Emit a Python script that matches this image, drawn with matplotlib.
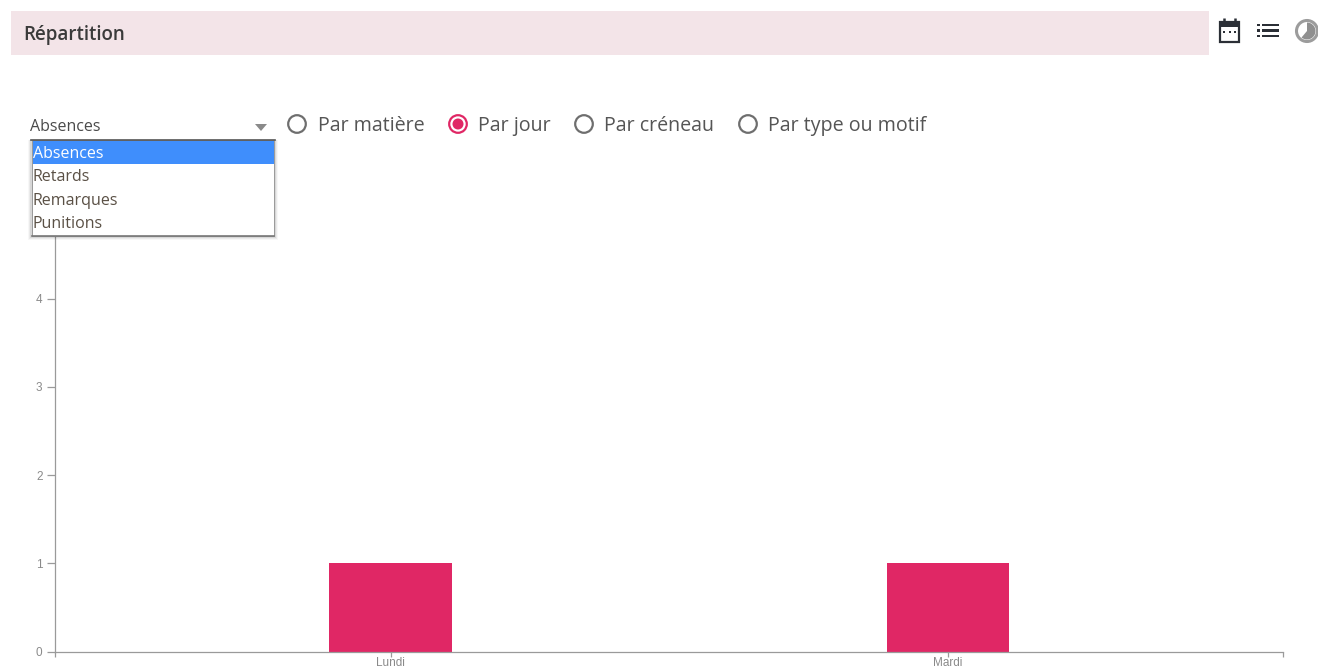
import matplotlib
matplotlib.use("Agg")
import matplotlib.pyplot as plt
from matplotlib.patches import Rectangle, Circle, Wedge, Polygon

plt.rcParams['font.family'] = ['Open Sans', 'DejaVu Sans']

W, H = 1318, 670

# chart data
jours = ["Lundi", "Mardi"]
valeurs = [1, 1]
y_ticks = [0, 1, 2, 3, 4]

# widgets text
titre = "Répartition"
options_select = ["Absences", "Retards", "Remarques", "Punitions"]
radios = ["Par matière", "Par jour", "Par créneau", "Par type ou motif"]
radio_x = [297, 458, 584, 748]
radio_actif = 1

ROSE = "#e02765"
GRIS = "#9a9a9a"
TEXTE = "#4a4a4a"

fig = plt.figure(figsize=(W / 100, H / 100), dpi=100, facecolor="white")


def px_axes(x0, y0, x1, y1):
    return [x0 / W, 1 - y1 / H, (x1 - x0) / W, (y1 - y0) / H]


# bar chart
ax = fig.add_axes(px_axes(55, 210.5, 1283, 651.5))
ax.bar(range(len(jours)), valeurs, width=0.22, color=ROSE, zorder=2)
ax.set_xlim(-0.602, 1.601)
ax.set_ylim(0, 5)
ax.set_xticks([-0.602, 0, 1, 1.601])
ax.set_xticklabels(["", jours[0], jours[1], ""], fontsize=8.5, color="#8a8a8a",
                   family="Liberation Sans")
ax.set_yticks(y_ticks)
ax.set_yticklabels([str(v) for v in y_ticks], fontsize=8.5, color="#8a8a8a",
                   family="Liberation Sans")
ax.tick_params(axis="x", length=3.5, width=0.9, color=GRIS, pad=0.8)
ax.tick_params(axis="y", length=6, width=0.9, color=GRIS, pad=3)
for s in ["top", "right"]:
    ax.spines[s].set_visible(False)
for s in ["left", "bottom"]:
    ax.spines[s].set_color(GRIS)
    ax.spines[s].set_linewidth(0.9)

# overlay in pixel coordinates for the page widgets
ui = fig.add_axes([0, 0, 1, 1], zorder=5)
ui.set_xlim(0, W)
ui.set_ylim(H, 0)
ui.axis("off")
ui.patch.set_alpha(0)

# header
ui.add_patch(Rectangle((11, 11), 1198, 44, color="#f3e4e8", lw=0))
ui.text(23, 35, titre, fontsize=13.5, fontweight="semibold", color="#3a3a3a", va="center")

# calendar icon
ui.add_patch(Rectangle((1220, 22), 19, 20, fc="white", ec="#2b2f36", lw=1.6))
ui.add_patch(Rectangle((1219, 21), 21, 6, color="#2b2f36", lw=0))
ui.plot([1224, 1224], [18, 22], color="#2b2f36", lw=1.8, solid_capstyle="butt")
ui.plot([1235, 1235], [18, 22], color="#2b2f36", lw=1.8, solid_capstyle="butt")
for x in [1224, 1229.5, 1235]:
    ui.add_patch(Rectangle((x - 1, 31), 2, 2, color="#2b2f36", lw=0))

# list icon
for y in [25, 30.5, 36]:
    ui.add_patch(Rectangle((1257, y - 1.2), 3, 2.6, color="#2b2f36", lw=0))
    ui.add_patch(Rectangle((1262, y - 1.2), 17, 2.6, color="#2b2f36", lw=0))

# pie icon
ui.add_patch(Circle((1307, 31), 10.5, fc="white", ec="#9c9c9c", lw=2.2))
ui.add_patch(Wedge((1307, 31), 8.5, -90, 130, color="#8f8f8f", lw=0))

# select
ui.text(30, 127, options_select[0], fontsize=11.5, color=TEXTE, va="center")
ui.add_patch(Polygon([[255, 124], [267, 124], [261, 131]], color="#8a8a8a", lw=0))

# open dropdown list
for i, a in enumerate([0.03, 0.05, 0.08]):
    ui.add_patch(Rectangle((31 - (3 - i), 140), 244 + 2 * (3 - i), 97 + (3 - i),
                           color="black", alpha=a, lw=0))
ui.add_patch(Rectangle((32, 140), 242, 96, fc="white", ec="#999999", lw=0.7))
ui.add_patch(Rectangle((33, 141), 241, 23, color="#3f8efc", lw=0))
ui.plot([31, 275], [139.5, 139.5], color="#555555", lw=1.2)
ui.plot([32, 274], [236, 236], color="#777777", lw=1.2)
for i, opt in enumerate(options_select):
    ui.text(33, 154 + i * 23.4, opt, fontsize=11.5, va="center",
            color="white" if i == 0 else "#5a5045")

# radio buttons
for i, (label, x) in enumerate(zip(radios, radio_x)):
    col = ROSE if i == radio_actif else "#6e6e6e"
    ui.add_patch(Circle((x, 124), 8.8, fc="white", ec=col, lw=1.6))
    if i == radio_actif:
        ui.add_patch(Circle((x, 124), 5.5, color=ROSE, lw=0))
    ui.text(x + 20.5, 126, label, fontsize=14.1, color="#555555", va="center")

fig.savefig("out.png", dpi=100)
